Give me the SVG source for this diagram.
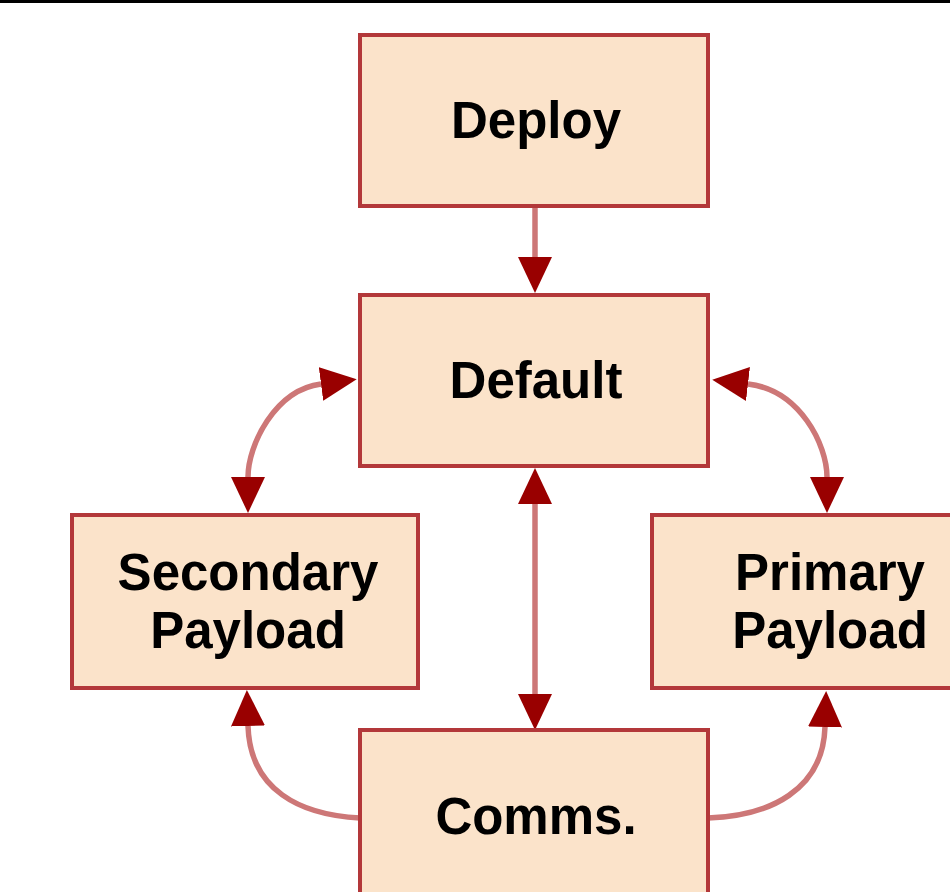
<svg xmlns="http://www.w3.org/2000/svg" width="950" height="892" viewBox="0 0 950 892">
  <style>
    .box { fill: #fbe3ca; stroke: #b3383a; stroke-width: 4; }
    .label { font-family: "Liberation Sans", Arial, sans-serif; font-weight: bold; font-size: 51px; fill: #000; text-anchor: middle; }
    .link { fill: none; stroke: #cd7777; stroke-width: 5.5; }
  </style>
  <defs>
    <marker id="head" viewBox="0 0 36 34" refX="0" refY="17" markerWidth="36" markerHeight="34" markerUnits="userSpaceOnUse" orient="auto-start-reverse">
      <path d="M0,0 L36,17 L0,34 Z" fill="#990000"/>
    </marker>
  </defs>

  <rect width="950" height="892" fill="#ffffff"/>
  <rect x="0" y="0" width="950" height="3" fill="#000000"/>

  <g id="connectors">
    <path class="link" d="M535,208 L535,257" marker-end="url(#head)"/>
    <path class="link" d="M535,504 L535,694" marker-start="url(#head)" marker-end="url(#head)"/>
    <path class="link" d="M248,477 C248,445 275,390 321,384" marker-start="url(#head)" marker-end="url(#head)"/>
    <path class="link" d="M827,477 C827,445 800,390 748,384" marker-start="url(#head)" marker-end="url(#head)"/>
    <path class="link" d="M360,818 C300,815 250,790 248,726" marker-end="url(#head)"/>
    <path class="link" d="M708,818 C770,816 823,790 825,727" marker-end="url(#head)"/>
  </g>

  <g id="deploy">
    <rect class="box" x="360" y="35" width="348" height="171"/>
    <text class="label" x="536" y="138">Deploy</text>
  </g>
  <g id="default">
    <rect class="box" x="360" y="295" width="348" height="171"/>
    <text class="label" x="536" y="398">Default</text>
  </g>
  <g id="secondary-payload">
    <rect class="box" x="72" y="515" width="346" height="173"/>
    <text class="label" x="248" y="590">Secondary</text>
    <text class="label" x="248" y="648">Payload</text>
  </g>
  <g id="primary-payload">
    <rect class="box" x="652" y="515" width="358" height="173"/>
    <text class="label" x="830" y="590">Primary</text>
    <text class="label" x="830" y="648">Payload</text>
  </g>
  <g id="comms">
    <rect class="box" x="360" y="730" width="348" height="175"/>
    <text class="label" x="536" y="834">Comms.</text>
  </g>
</svg>
